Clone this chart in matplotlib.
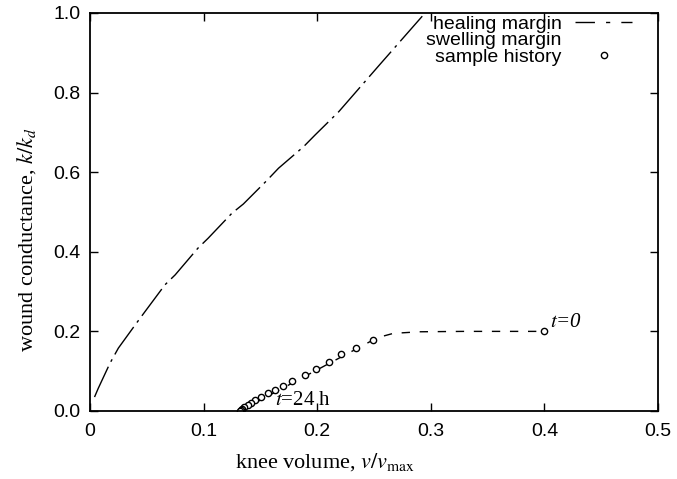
import matplotlib
matplotlib.use('Agg')
import matplotlib.pyplot as plt
from matplotlib.lines import Line2D

plt.rcParams['mathtext.fontset'] = 'stix'

# healing margin (dash-dot curve)
heal_v = [0.004, 0.0073, 0.0176, 0.025, 0.041, 0.048, 0.066, 0.075, 0.095, 0.104,
          0.125, 0.135, 0.156, 0.166, 0.188, 0.198, 0.219, 0.255, 0.295]
heal_k = [0.035, 0.057, 0.12, 0.158, 0.221, 0.248, 0.317, 0.342, 0.409, 0.434,
          0.497, 0.520, 0.580, 0.610, 0.664, 0.693, 0.752, 0.87, 1.0]

# swelling margin (dashed curve)
swell_v = [0.132, 0.249, 0.258, 0.267, 0.29, 0.33, 0.37, 0.40]
swell_k = [0.0, 0.178, 0.188, 0.195, 0.199, 0.200, 0.200, 0.200]

# sample history
hist_v = [0.40, 0.249, 0.234, 0.221, 0.210, 0.199, 0.189, 0.178, 0.170, 0.163,
          0.157, 0.1505, 0.1455, 0.1417, 0.1388, 0.136, 0.134, 0.133, 0.132]
hist_k = [0.20, 0.178, 0.159, 0.142, 0.124, 0.1055, 0.090, 0.076, 0.063, 0.053,
          0.0444, 0.034, 0.0276, 0.021, 0.015, 0.010, 0.006, 0.003, 0.0]

fig = plt.figure(figsize=(6.77, 4.79), dpi=100)
ax = fig.add_axes([0.1329, 0.1420, 0.8390, 0.8309])

ax.plot(heal_v, heal_k, color='black', lw=1.0, dashes=(24, 4, 2, 4))
ax.plot(swell_v, swell_k, color='black', lw=1.0, dashes=(6, 7))
ax.plot(hist_v, hist_k, 'o', mfc='white', mec='black', ms=4.5, mew=1.0)

ax.set_xlim(0, 0.5)
ax.set_ylim(0, 1.0)
ax.set_xticks([0, 0.1, 0.2, 0.3, 0.4, 0.5], ['0', '0.1', '0.2', '0.3', '0.4', '0.5'])
ax.set_yticks([0, 0.2, 0.4, 0.6, 0.8, 1.0], ['0.0', '0.2', '0.4', '0.6', '0.8', '1.0'])
ax.tick_params(direction='in', top=True, right=True, length=6, width=1,
               labelsize=14)
ax.tick_params(axis='x', pad=9)
ax.tick_params(axis='y', pad=7)
for lab in ax.get_xticklabels() + ax.get_yticklabels():
    lab.set_family('Liberation Sans')
for s in ax.spines.values():
    s.set_linewidth(1.3)

ax.set_xlabel(r'knee volume, $v/v_{\rm max}$', family='Liberation Serif', fontsize=16,
              va='center')
ax.xaxis.set_label_coords(0.414, -0.128)
ax.set_ylabel(r'wound conductance, $k/k_d$', family='Liberation Serif', fontsize=16,
              va='center')
ax.yaxis.set_label_coords(-0.111, 0.43)

ax.text(0.405, 0.222, r'$t$=0', family='Liberation Serif', fontsize=15,
        style='italic', va='center', ha='left')
ax.text(0.163, 0.003, r'$t$=24 h', family='Liberation Serif', fontsize=15,
        va='bottom', ha='left')

handles = [
    Line2D([], [], color='black', lw=1.0, dashes=(14, 8, 3, 8)),
    Line2D([], [], linestyle='none'),
    Line2D([], [], linestyle='none', marker='o', mfc='white', mec='black', ms=4.5),
]
ax.legend(handles, ['healing margin', 'swelling margin', 'sample history'],
          loc='upper right', bbox_to_anchor=(0.954, 0.995), frameon=False,
          markerfirst=False, prop={'family': 'Liberation Sans', 'size': 14},
          handlelength=2.9, labelspacing=-0.05, borderaxespad=0.0,
          borderpad=0.0, handletextpad=0.7)

fig.savefig('out.png', dpi=100)
